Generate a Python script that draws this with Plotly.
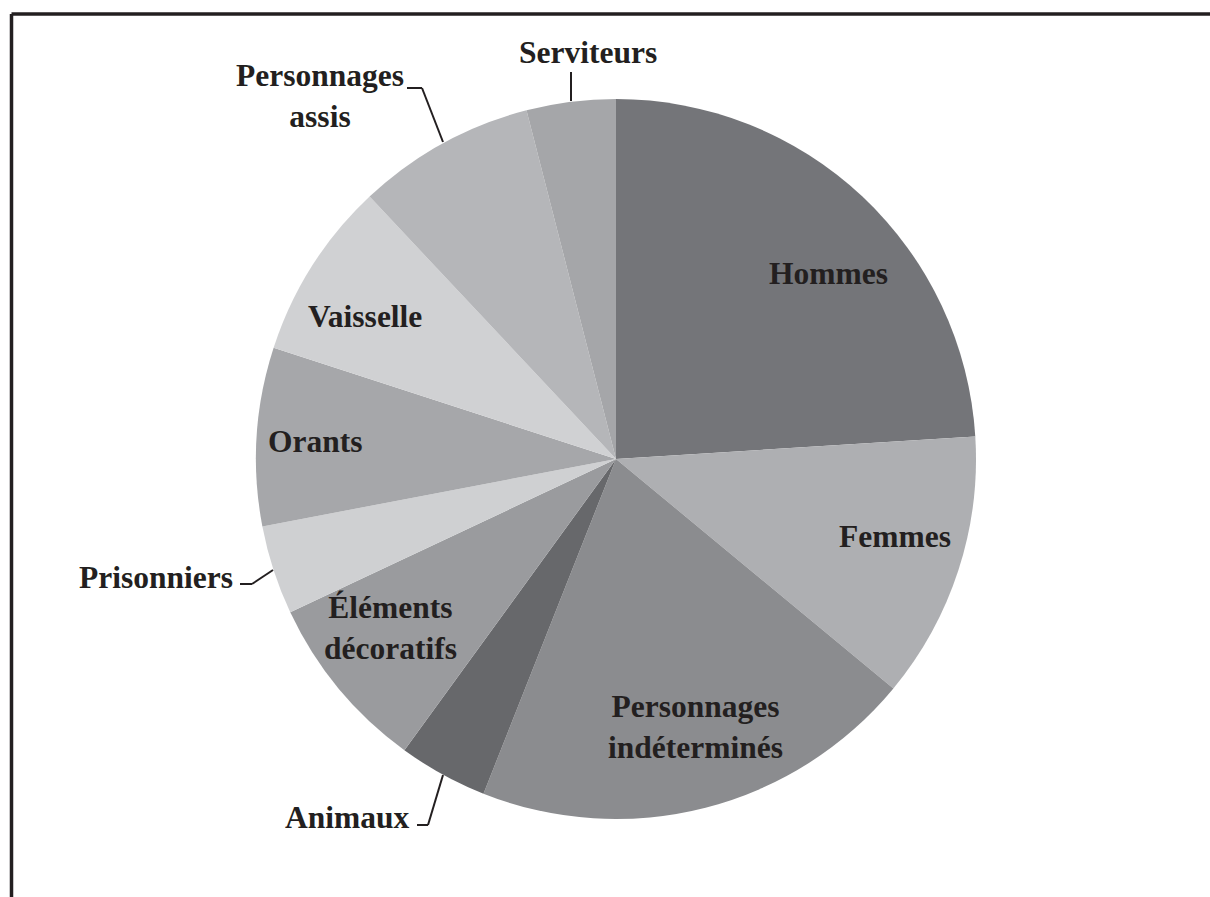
import plotly.graph_objects as go

W, H = 1210, 897

# data: share of each category (counts), clockwise from 12 o'clock
categories = ["Hommes", "Femmes", "Personnages indéterminés", "Animaux",
              "Éléments décoratifs", "Prisonniers", "Orants", "Vaisselle",
              "Personnages assis", "Serviteurs"]
values = [6, 3, 5, 1, 2, 1, 2, 2, 2, 1]
colors = ["#747579", "#AEAFB2", "#8B8C8F", "#67686B", "#9A9B9E",
          "#CFD0D2", "#A6A7AA", "#D0D1D3", "#B5B6B9", "#A5A6A9"]

# label text and placement (pixel positions of label centres)
label_text = {
    "Hommes": "Hommes",
    "Femmes": "Femmes",
    "Personnages indéterminés": "Personnages<br>indéterminés",
    "Animaux": "Animaux",
    "Éléments décoratifs": "Éléments<br>décoratifs",
    "Prisonniers": "Prisonniers",
    "Orants": "Orants",
    "Vaisselle": "Vaisselle",
    "Personnages assis": "Personnages<br>assis",
    "Serviteurs": "Serviteurs",
}
label_pos = {
    "Hommes": (828, 273),
    "Femmes": (895, 536),
    "Personnages indéterminés": (695, 727),
    "Animaux": (347, 817),
    "Éléments décoratifs": (390, 628),
    "Prisonniers": (156, 577),
    "Orants": (315, 442),
    "Vaisselle": (365, 316),
    "Personnages assis": (320, 96),
    "Serviteurs": (588, 52),
}
# leader lines for outside labels (pixel polylines)
leaders = [
    [(571, 72), (571, 101)],
    [(407, 88), (422, 88), (443, 142)],
    [(240, 584), (252, 584), (273, 570)],
    [(417, 825), (428, 825), (443, 775)],
]

TEXT = "#231F20"


def px(x, y):
    return x / W, 1 - y / H


cx, cy, r = 616, 459, 360

fig = go.Figure(go.Pie(
    labels=categories,
    values=values,
    marker=dict(colors=colors, line=dict(width=0)),
    sort=False,
    direction="clockwise",
    rotation=0,
    textinfo="none",
    hoverinfo="label+percent",
    showlegend=False,
    domain=dict(x=[(cx - r) / W, (cx + r) / W],
                y=[1 - (cy + r) / H, 1 - (cy - r) / H]),
))

annotations = []
for cat in categories:
    x, y = px(*label_pos[cat])
    annotations.append(dict(
        x=x, y=y, xref="paper", yref="paper",
        text=label_text[cat], showarrow=False,
        xanchor="center", yanchor="middle", align="center",
        font=dict(family="Liberation Serif", size=31.5, color=TEXT, weight="bold"),
    ))

shapes = []
for pts in leaders:
    for (x0, y0), (x1, y1) in zip(pts[:-1], pts[1:]):
        a0, b0 = px(x0, y0)
        a1, b1 = px(x1, y1)
        shapes.append(dict(type="line", xref="paper", yref="paper",
                           x0=a0, y0=b0, x1=a1, y1=b1,
                           line=dict(color=TEXT, width=2)))

# frame: top and left edges
fx, fy = px(11.5, 14)
shapes.append(dict(type="line", xref="paper", yref="paper",
                   x0=fx, y0=fy, x1=1, y1=fy,
                   line=dict(color=TEXT, width=3.5)))
shapes.append(dict(type="line", xref="paper", yref="paper",
                   x0=fx, y0=fy, x1=fx, y1=0,
                   line=dict(color=TEXT, width=3.5)))

fig.update_layout(
    width=W, height=H,
    margin=dict(l=0, r=0, t=0, b=0),
    paper_bgcolor="white",
    plot_bgcolor="white",
    annotations=annotations,
    shapes=shapes,
)

fig.write_html("out.html",
               config=dict(displayModeBar=False),
               post_script="document.body.style.margin='0';document.body.style.overflow='hidden';")
